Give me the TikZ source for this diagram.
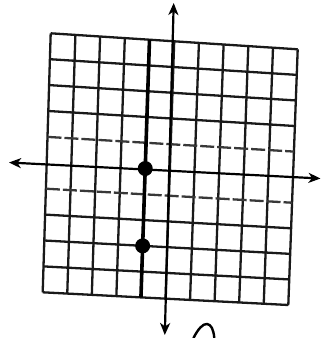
\documentclass[tikz,border=0pt]{standalone}
\usetikzlibrary{arrows.meta,calc}
\begin{document}
\begin{tikzpicture}[x=1pt,y=-1pt,
  gridline/.style={line width=2.3pt,black!90},
  fadedline/.style={line width=2.3pt,black!78,dash pattern=on 14pt off 3pt},
  axisline/.style={line width=2.2pt,black,{Stealth[length=12pt,width=10pt,inset=3.5pt]}-{Stealth[length=12pt,width=10pt,inset=3.5pt]}},
  graphline/.style={line width=3.6pt,black},
  dot/.style={circle,fill=black,inner sep=0pt,minimum size=15pt},
  scribble/.style={line width=2.4pt,black,line cap=round}]
\useasboundingbox (0,0) rectangle (321,338);
\coordinate (TL) at (50.7,33.3);
\coordinate (TR) at (297.7,49.3);
\coordinate (BL) at (42.7,292.3);
\coordinate (BR) at (288.3,305);
% vertical grid lines
\foreach \i in {0,...,10}{
  \draw[gridline] ($(TL)!\i/10!(TR)$) -- ($(BL)!\i/10!(BR)$);
}
% horizontal grid lines
\foreach \j in {0,1,2,3,7,8,9,10}{
  \draw[gridline] ($(TL)!\j/10!(BL)$) -- ($(TR)!\j/10!(BR)$);
}
\foreach \j in {4,6}{
  \draw[fadedline] ($(TL)!\j/10!(BL)$) -- ($(TR)!\j/10!(BR)$);
}
% axes
\coordinate (ytop) at (173.7,3);
\coordinate (ybot) at (164.8,335);
\coordinate (xleft) at (9,162.5);
\coordinate (xright) at (320.5,178.5);
\draw[axisline] (xleft) -- (xright);
\draw[axisline] (ybot) -- (ytop);
% graph line x = -1
\coordinate (gt) at ($(TL)!0.4!(TR)$);
\coordinate (gb) at ($(BL)!0.4!(BR)$);
\draw[graphline] (gt) -- (gb);
% points
\node[dot] (p1) at ($($(TL)!0.5!(BL)$)!0.4!($(TR)!0.5!(BR)$)$) {};
\node[dot] (p2) at ($($(TL)!0.8!(BL)$)!0.4!($(TR)!0.8!(BR)$)$) {};
% handwritten mark
\draw[scribble] (193.5,338) .. controls (198,329) and (203,323.5) .. (207,324) .. controls (211,324.5) and (213.5,329) .. (214.3,338);
\end{tikzpicture}
\end{document}
